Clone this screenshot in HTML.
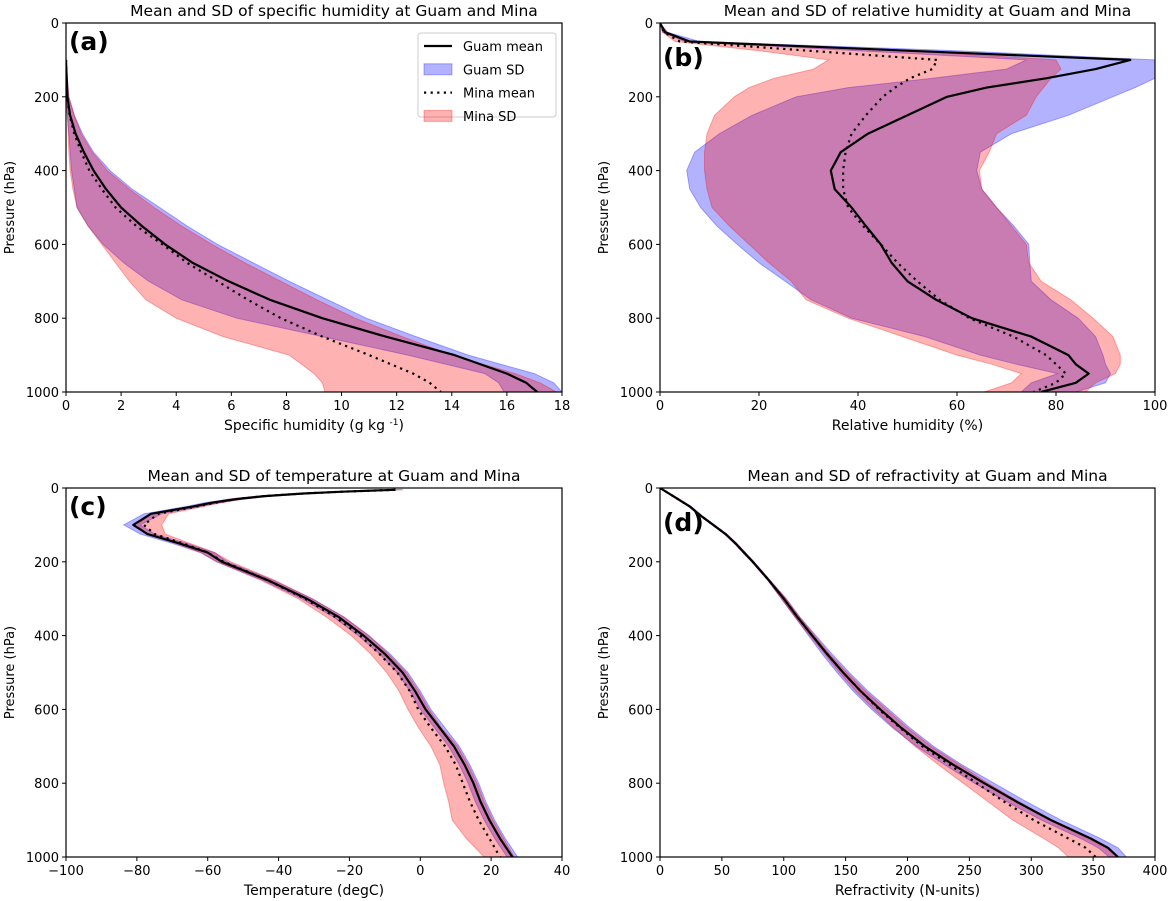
<!DOCTYPE html>
<html><head><meta charset="utf-8">
<style>
body{margin:0;background:#fff;}
svg{display:block;font-family:"DejaVu Sans","Liberation Sans",sans-serif;}
</style></head>
<body>
<svg id="fig" width="1168" height="901" viewBox="0 0 1168 901" xmlns="http://www.w3.org/2000/svg"></svg>
<script>
// ---------- Panel (a): specific humidity ----------
const qP = [100,200,250,300,350,400,450,500,550,600,650,700,750,800,850,900,950,975,1000];
const qGuamMean = [0,0.05,0.15,0.35,0.65,1.0,1.45,2.0,2.75,3.6,4.6,5.9,7.4,9.3,11.6,14.1,16.0,16.7,17.1];
const qMinaMean = [0,0.04,0.13,0.3,0.55,0.85,1.3,1.8,2.55,3.5,4.4,5.5,6.6,7.8,9.3,11.0,12.6,13.2,13.6];
const qGuamLo = [0,0,0.05,0.1,0.15,0.2,0.3,0.4,0.8,1.35,2.1,3.0,4.2,6.2,9.3,12.4,15.2,15.7,15.9];
const qGuamHi = [0,0.1,0.3,0.6,1.0,1.6,2.4,3.4,4.4,5.5,6.8,8.1,9.5,10.9,12.7,14.6,17.0,17.7,18.0];
const qMinaLo = [0,0,0.05,0.08,0.1,0.15,0.25,0.4,0.8,1.3,1.8,2.3,2.9,4.0,5.7,8.1,9.0,9.3,9.4];
const qMinaHi = [0,0.1,0.3,0.55,0.95,1.5,2.3,3.2,4.2,5.3,6.5,7.8,9.1,10.5,12.2,14.0,16.3,17.2,17.8];
const qTicks = [0,2,4,6,8,10,12,14,16,18];

// ---------- Panel (b): relative humidity ----------
const rhP = [0,25,50,75,100,125,150,175,200,250,300,350,400,450,500,550,600,650,700,750,800,850,900,925,950,975,1000];
const rhGuamMean = [0,1,6,50,95,88,78,66,58,50,42,36.5,34.5,35.3,38.7,41.6,44.6,46.8,50,55.8,63,75,82.5,84,86.6,84,77];
const rhMinaMean = [0,0.8,4,30,56,55,50.5,47.5,45,41.6,38.7,37.5,37,37,38,41,44.6,48,52,56.5,62.5,71.4,78,80,82,80,75.5];
const rhGuamLo = [0,0.5,5,40,74,70,55,38,27.5,18.6,12,7,5.4,6,8.2,11.5,15.6,20,25.3,30.5,38.7,53.5,64.7,72,80.3,75,73];
const rhGuamHi = [0,1.5,8,60,100,100,100,96,91.5,82.5,71,64.7,64,65,68,71.5,74.5,74.7,75,79,84.5,88,89.5,90,91,90,84];
const rhMinaLo = [0,0.5,3,20,34,31,23,18,15,11,9.5,9,9,9.5,10.5,14,18,22,26.5,29.5,38,49,60,67,73,71,65.5];
const rhMinaHi = [0,1.5,6,50,80,81,79,77.5,76,74,68,66.5,64.5,65,68,71,74,74.5,77,83,87.5,91.5,93,93,92,88,86];
const rhTicks = [0,20,40,60,80,100];

// ---------- Panel (c): temperature ----------
const tP = [5,10,15,22,30,40,50,70,100,125,150,175,200,250,300,350,400,450,500,550,600,650,700,750,800,850,900,950,1000];
const tGuamMean = [-7,-22,-33,-44,-52,-59,-64,-76,-81,-77,-68,-60,-56,-43,-32,-23,-16,-10,-5,-1.5,1.5,5.5,9.5,12.5,15,17,19.5,22.5,26];
const tMinaMean = [-7,-22,-33,-44,-52,-58,-63,-74,-78,-75,-67,-60,-55.5,-43,-32.5,-24,-17,-11.5,-6.5,-3,-0.6,3,7,10,12,14,16.5,19.5,22.5];
const tGuamLo = [-8,-24,-35,-46,-54,-61,-66,-78,-83.7,-79,-70,-62,-57.5,-44.5,-33.5,-24.5,-17.5,-11.5,-6.5,-3,0,4,8,11,13.5,15.5,18,21,24.5];
const tGuamHi = [-5,-20,-31,-42,-50,-57,-62,-73,-79,-75,-66,-58,-54.5,-41.5,-30.5,-21.5,-14.5,-8.5,-3.5,0,3,7,11,14,16.5,18.5,21,24,27.5];
const tMinaLo = [-8,-24,-35,-46,-54,-60,-65,-76,-80,-77,-69,-62,-57.5,-45,-34.5,-26.5,-19.5,-14,-9.5,-6,-3.5,-0.5,3,5.5,6.6,8,9,13,18];
const tMinaHi = [-5,-20,-31,-42,-50,-56,-61,-71,-73,-72,-65,-58,-53.5,-41,-30.5,-21.5,-14.5,-9,-4,-0.5,2.5,6,10.5,13.5,16,18,20.5,23.5,26.5];
const tTicks = [-100,-80,-60,-40,-20,0,20,40];

// ---------- Panel (d): refractivity ----------
const nP = [0,25,50,75,100,125,150,175,200,250,300,350,400,450,500,550,600,650,700,750,800,850,900,950,975,1000];
const nGuamMean = [0,12,24,33,43,53,61,68,75,88,100,111,123,135,148,162,178,195,214,237,262,288,316,348,362,370];
const nMinaMean = [0,12,24,33,43,53,61,68,75,88,100,111,123,135,148,162,177,194,212,234,256,278,302,330,344,352];
const nGuamLo = [0,11,23,32,42,52,60,67,74,87,98,109,120,131,143,156,171,188,207,230,254,280,308,340,354,363];
const nGuamHi = [0,13,25,34,44,54,62,69,76,89,102,113,126,139,153,168,185,202,221,244,270,296,324,356,370,377];
const nMinaLo = [0,11,23,32,42,52,60,67,74,87,98,109,121,133,145,158,173,189,206,225,245,265,285,310,322,330];
const nMinaHi = [0,13,25,34,44,54,62,69,76,89,102,113,125,137,151,166,183,200,219,242,265,290,315,345,360,370];
const nTicks = [0,50,100,150,200,250,300,350,400];

const pTicks = [0,200,400,600,800,1000];

const NS = "http://www.w3.org/2000/svg";
const svg = document.getElementById('fig');
function mk(tag, attrs, parent){
  const e = document.createElementNS(NS, tag);
  for (const k in attrs) e.setAttribute(k, attrs[k]);
  (parent||svg).appendChild(e);
  return e;
}

function panel(cfg){
  const g = mk('g', {});
  
  
  const X = v => cfg.x0 + (v - cfg.xmin) / (cfg.xmax - cfg.xmin) * (cfg.x1 - cfg.x0);
  const Y = p => cfg.y0 + p / 1000 * (cfg.y1 - cfg.y0);
  const cid = 'clip-' + cfg.name;
  const cp = mk('clipPath', {id: cid}, g);
  mk('rect', {x: cfg.x0, y: cfg.y0, width: cfg.x1 - cfg.x0, height: cfg.y1 - cfg.y0}, cp);
  const plot = mk('g', {'clip-path': 'url(#' + cid + ')'}, g);

  function band(P, lo, hi, color, nm){
    let pts = [];
    for (let i = 0; i < P.length; i++) pts.push(X(lo[i]).toFixed(1) + ',' + Y(P[i]).toFixed(1));
    for (let i = P.length - 1; i >= 0; i--) pts.push(X(hi[i]).toFixed(1) + ',' + Y(P[i]).toFixed(1));
    const e = mk('polygon', {points: pts.join(' '), fill: color, 'fill-opacity': 0.3, stroke: color, 'stroke-opacity': 0.3, 'stroke-width': 1}, plot);
    
    
  }
  function line(P, vals, dash, nm){
    const pts = P.map((p, i) => X(vals[i]).toFixed(1) + ',' + Y(p).toFixed(1)).join(' ');
    const a = {points: pts, fill: 'none', stroke: '#000', 'stroke-width': 2.2, 'stroke-linejoin': 'round'};
    if (dash) { a['stroke-dasharray'] = '2.2,4.4'; }
    const e = mk('polyline', a, plot);
    
    
  }
  band(cfg.P, cfg.guamLo, cfg.guamHi, '#0000ff', 'guam-sd-band');
  band(cfg.P, cfg.minaLo, cfg.minaHi, '#ff0000', 'mina-sd-band');
  line(cfg.P, cfg.minaMean, true, 'mina-mean-line');
  line(cfg.P, cfg.guamMean, false, 'guam-mean-line');

  const fr = mk('rect', {x: cfg.x0, y: cfg.y0, width: cfg.x1 - cfg.x0, height: cfg.y1 - cfg.y0, fill: 'none', stroke: '#000', 'stroke-width': 1.2}, g);
  
  

  cfg.xticks.forEach(v => {
    const x = X(v);
    mk('line', {x1: x, x2: x, y1: cfg.y1, y2: cfg.y1 + 4, stroke: '#000', 'stroke-width': 1}, g);
    const t = mk('text', {x: x, y: cfg.y1 + 18, 'text-anchor': 'middle', 'font-size': 13, fill: '#000'}, g);
    t.textContent = String(v).replace('-', '\u2212');
    
    
  });
  pTicks.forEach(p => {
    const y = Y(p);
    mk('line', {x1: cfg.x0 - 4, x2: cfg.x0, y1: y, y2: y, stroke: '#000', 'stroke-width': 1}, g);
    const t = mk('text', {x: cfg.x0 - 7, y: y + 5, 'text-anchor': 'end', 'font-size': 13, fill: '#000'}, g);
    t.textContent = String(p);
    
    
  });
  const xt = mk('text', {x: (cfg.x0 + cfg.x1) / 2, y: cfg.y1 + 38, 'text-anchor': 'middle', 'font-size': 14, fill: '#000'}, g);
  xt.innerHTML = cfg.xlabel;
  
  
  const yx = cfg.x0 - 52, yy = (cfg.y0 + cfg.y1) / 2;
  const yt = mk('text', {x: yx, y: yy, 'text-anchor': 'middle', 'font-size': 13, fill: '#000', transform: 'rotate(-90 ' + yx + ' ' + yy + ')'}, g);
  yt.textContent = 'Pressure (hPa)';
  
  
  const tt = mk('text', {x: (cfg.x0 + cfg.x1) / 2 + 20, y: cfg.y0 - 7, 'text-anchor': 'middle', 'font-size': 15.5, fill: '#000'}, g);
  tt.textContent = cfg.title;
  
  
  const pl = mk('text', {x: cfg.x0 + 3, y: cfg.y0 + cfg.letterY, 'font-size': 25, 'font-weight': 'bold', fill: '#000'}, g);
  pl.textContent = cfg.letter;
  
  
}

panel({name:'panel-a-specific-humidity', x0:66, x1:562, y0:23, y1:392, xmin:0, xmax:18, P:qP,
  guamMean:qGuamMean, minaMean:qMinaMean, guamLo:qGuamLo, guamHi:qGuamHi, minaLo:qMinaLo, minaHi:qMinaHi,
  xticks:qTicks, xlabel:'Specific humidity (g kg <tspan baseline-shift="super" font-size="9">-1</tspan>)',
  title:'Mean and SD of  specific humidity at Guam and Mina', letter:'(a)', letterY:27});
panel({name:'panel-b-relative-humidity', x0:660, x1:1155, y0:23, y1:392, xmin:0, xmax:100, P:rhP,
  guamMean:rhGuamMean, minaMean:rhMinaMean, guamLo:rhGuamLo, guamHi:rhGuamHi, minaLo:rhMinaLo, minaHi:rhMinaHi,
  xticks:rhTicks, xlabel:'Relative humidity (%)',
  title:'Mean and SD of  relative humidity at Guam and Mina', letter:'(b)', letterY:43});
panel({name:'panel-c-temperature', x0:66, x1:562, y0:488, y1:857, xmin:-100, xmax:40, P:tP,
  guamMean:tGuamMean, minaMean:tMinaMean, guamLo:tGuamLo, guamHi:tGuamHi, minaLo:tMinaLo, minaHi:tMinaHi,
  xticks:tTicks, xlabel:'Temperature (degC)',
  title:'Mean and SD of  temperature at Guam and Mina', letter:'(c)', letterY:27});
panel({name:'panel-d-refractivity', x0:660, x1:1155, y0:488, y1:857, xmin:0, xmax:400, P:nP,
  guamMean:nGuamMean, minaMean:nMinaMean, guamLo:nGuamLo, guamHi:nGuamHi, minaLo:nMinaLo, minaHi:nMinaHi,
  xticks:nTicks, xlabel:'Refractivity (N-units)',
  title:'Mean and SD of refractivity at Guam and Mina', letter:'(d)', letterY:43});

const lg = mk('g', {});


mk('rect', {x: 418, y: 33, width: 138, height: 84, rx: 3, fill: '#fff', 'fill-opacity': 0.85, stroke: '#ccc', 'stroke-width': 1}, lg);
const legItems = [['Guam mean','line'],['Guam SD','#0000ff'],['Mina mean','dot'],['Mina SD','#ff0000']];
legItems.forEach((it, i) => {
  const y = 46 + i * 23.3;
  const eg = mk('g', {}, lg);
  
  
  if (it[1] === 'line') mk('line', {x1: 424, x2: 452, y1: y, y2: y, stroke: '#000', 'stroke-width': 2.2}, eg);
  else if (it[1] === 'dot') mk('line', {x1: 424, x2: 452, y1: y, y2: y, stroke: '#000', 'stroke-width': 2.2, 'stroke-dasharray': '2.2,4.4'}, eg);
  else mk('rect', {x: 424, y: y - 5.5, width: 28, height: 11, fill: it[1], 'fill-opacity': 0.3, stroke: it[1], 'stroke-opacity': 0.3}, eg);
  const t = mk('text', {x: 463, y: y + 5, 'font-size': 13, fill: '#000'}, eg);
  t.textContent = it[0];
});
</script>
</body></html>
